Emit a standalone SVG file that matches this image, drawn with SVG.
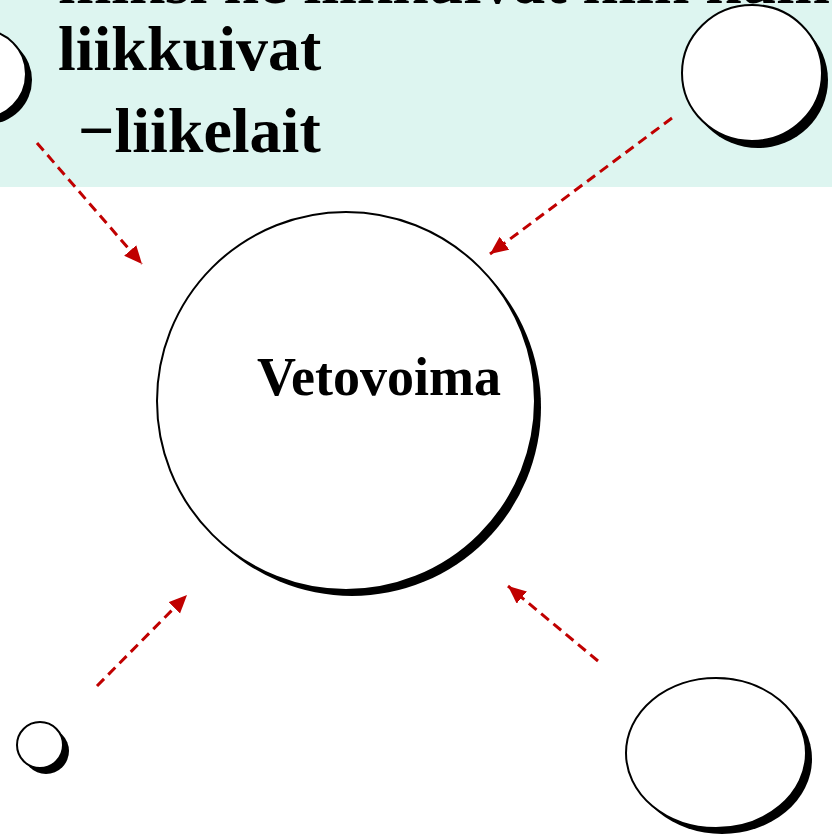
<svg xmlns="http://www.w3.org/2000/svg" width="832" height="834" viewBox="0 0 832 834">
<style>
.txt{font-family:"Liberation Serif","Times New Roman",serif;font-weight:bold;fill:#000}
.big{font-size:64px}
.lbl{font-size:54px}
.shadow{fill:#000}
.node{fill:#fff;stroke:#000;stroke-width:2}
.conn{fill:none;stroke:#C00000;stroke-width:3;stroke-dasharray:10 6;marker-end:url(#ah)}
</style>
<defs>
<marker id="ah" markerUnits="userSpaceOnUse" markerWidth="19" markerHeight="17" refX="18" refY="8" orient="auto">
<path d="M0,0 L18,8 L0,16 z" fill="#C00000"/>
</marker>
</defs>
<rect x="0" y="0" width="832" height="834" fill="#fff"/>
<rect id="banner" x="0" y="0" width="832" height="187" fill="#DDF5F0"/>
<g id="banner-text">
<text class="txt big" x="58" y="3">miksi ne liikkuivat niin kuin</text>
<text class="txt big" x="58" y="70">liikkuivat</text>
<text class="txt big" x="78" y="152">−liikelait</text>
</g>
<g id="node-topleft">
<ellipse class="shadow" cx="-12" cy="80" rx="44" ry="44"/>
<ellipse class="node" cx="-18" cy="74" rx="44" ry="44"/>
</g>
<g id="node-topright">
<ellipse class="shadow" cx="758" cy="80" rx="70" ry="68"/>
<ellipse class="node" cx="752" cy="73" rx="70" ry="68"/>
</g>
<g id="node-center">
<ellipse class="shadow" cx="352" cy="407" rx="189" ry="189"/>
<ellipse class="node" cx="346" cy="401" rx="189" ry="189" stroke-width="1.6"/>
<text class="txt lbl" x="257" y="395">Vetovoima</text>
</g>
<g id="node-bottomleft">
<ellipse class="shadow" cx="46" cy="751" rx="23" ry="23"/>
<ellipse class="node" cx="40" cy="745" rx="23" ry="23"/>
</g>
<g id="node-bottomright">
<ellipse class="shadow" cx="722" cy="759" rx="90" ry="75"/>
<ellipse class="node" cx="716" cy="753" rx="90" ry="75"/>
</g>
<g id="connectors">
<line class="conn" x1="37" y1="143" x2="142" y2="264"/>
<line class="conn" x1="672" y1="118" x2="490" y2="254"/>
<line class="conn" x1="97" y1="686" x2="187" y2="595"/>
<line class="conn" x1="598" y1="661" x2="508" y2="586"/>
</g>
</svg>
